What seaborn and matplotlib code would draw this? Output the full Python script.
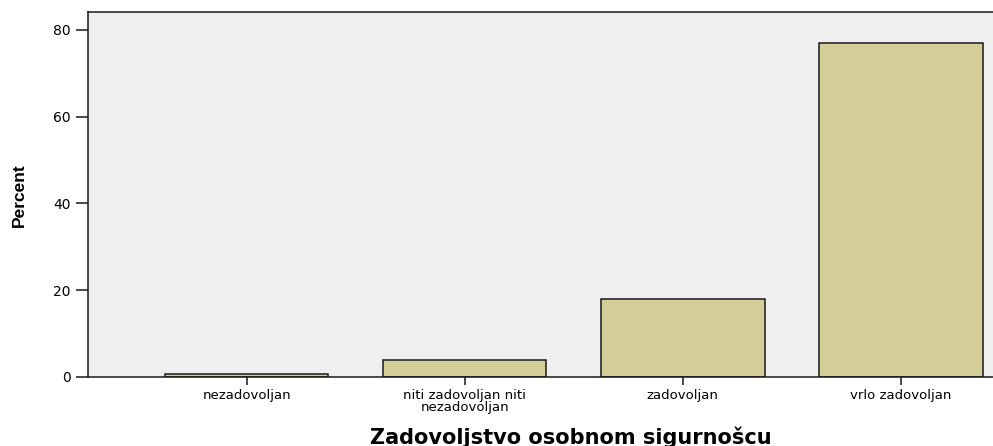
import matplotlib
matplotlib.use("Agg")
import matplotlib.pyplot as plt
import seaborn as sns
import pandas as pd

# Data
categories = ["nezadovoljan", "niti zadovoljan niti\nnezadovoljan", "zadovoljan", "vrlo zadovoljan"]
percent = [0.8, 3.9, 17.9, 76.9]
y_ticks = [0, 20, 40, 60, 80]

BAR_COLOR = "#D3CE97"
BG_COLOR = "#EFEFEF"
INK = "#1a1a1a"

sns.set_style("white")
plt.rcParams["font.family"] = ["DejaVu Sans"]
plt.rcParams["text.color"] = "black"
plt.rcParams["axes.labelcolor"] = "black"
plt.rcParams["xtick.labelcolor"] = "black"
plt.rcParams["ytick.labelcolor"] = "black"

df = pd.DataFrame({"category": categories, "Percent": percent})

fig = plt.figure(figsize=(9.93, 4.46), dpi=100)
ax = fig.add_axes([88 / 993, 1 - 377 / 446, 1 - 88 / 993, (377 - 12) / 446])
ax.set_facecolor(BG_COLOR)

sns.barplot(data=df, x="category", y="Percent", color=BAR_COLOR, width=0.75,
            edgecolor=INK, linewidth=1.1, saturation=1, ax=ax)

ax.set_xlim(-0.728, 3.423)
ax.set_ylim(0, 84.1)
ax.set_yticks(y_ticks)

for side in ["left", "bottom", "top"]:
    ax.spines[side].set_visible(True)
    ax.spines[side].set_color(INK)
    ax.spines[side].set_linewidth(1.1)
ax.spines["right"].set_visible(False)

ax.tick_params(axis="y", direction="out", length=8.5, width=1.1, color=INK,
               labelsize=10, pad=4, left=True)
ax.tick_params(axis="x", direction="out", length=5.5, width=1.1, color=INK,
               labelsize=9.5, pad=3, bottom=True)
for lbl in ax.get_xticklabels():
    lbl.set_linespacing(0.95)

ax.set_ylabel("Percent", fontsize=12.5, fontweight="bold",
              family=["Liberation Sans", "DejaVu Sans"])
ax.yaxis.set_label_coords(-(88 - 27) / (993 - 88), (377 - 195) / 365)

ax.set_xlabel("Zadovoljstvo osobnom sigurnošcu", fontsize=15, fontweight="bold")
ax.xaxis.set_label_coords((571 - 88) / (993 - 88), -(437 - 377) / 365)
ax.xaxis.label.set_va("center")

fig.savefig("out.png", dpi=100)
